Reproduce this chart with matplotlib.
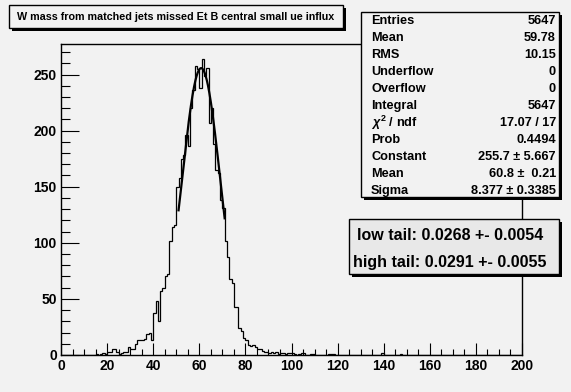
import numpy as np
import matplotlib
matplotlib.use("Agg")
import matplotlib.pyplot as plt
from matplotlib.patches import Rectangle

# ---------------- data ----------------
bin_edges_range = (0, 200)
n_bins = 200
# non-empty bins: lower edge -> count
filled_bins = [15, 17, 18, 19, 20, 21, 22, 23, 24, 25, 26, 27, 28, 29,
               30, 31, 32, 33, 34, 35, 36, 37, 38, 39,
               40, 41, 42, 43, 44, 45, 46, 47, 48, 49,
               50, 51, 52, 53, 54, 55, 56, 57, 58, 59,
               60, 61, 62, 63, 64, 65, 66, 67, 68, 69,
               70, 71, 72, 73, 74, 75, 76, 77, 78, 79,
               80, 81, 82, 83, 84, 85, 86, 87, 88, 89,
               90, 91, 92, 93, 94, 95, 96, 97, 98, 99,
               100, 101, 103, 104, 105, 108, 109, 116, 117, 118, 139, 147]
filled_counts = [1, 1, 2, 1, 3, 3, 5, 5, 3, 1, 2, 3, 3, 7,
                 5, 5, 10, 13, 13, 13, 14, 19, 20, 13,
                 37, 48, 30, 57, 60, 70, 72, 102, 114, 116,
                 150, 158, 175, 178, 196, 186, 220, 236, 258, 255,
                 238, 264, 249, 256, 207, 220, 188, 165, 162, 138,
                 131, 102, 87, 68, 64, 43, 43, 24, 21, 15,
                 13, 9, 8, 9, 7, 5, 5, 4, 3, 3,
                 2, 3, 2, 3, 1, 2, 2, 1, 2, 2,
                 2, 1, 1, 2, 2, 1, 1, 1, 1, 1, 2, 1]

# gaussian fit parameters (from stats box)
fit_constant = 255.7
fit_mean = 60.8
fit_sigma = 8.377
fit_range = (51, 71)

title = "W mass from matched jets missed Et B central small ue influx"
stat_labels = ["Entries", "Mean", "RMS", "Underflow", "Overflow", "Integral",
               r"$\chi^{2}$ / ndf", "Prob", "Constant", "Mean", "Sigma"]
stat_values = ["5647", "59.78", "10.15", "0", "0", "5647", "17.07 / 17",
               "0.4494", "255.7 \u00b1 5.667", "60.8 \u00b1  0.21", "8.377 \u00b1 0.3385"]
tail_lines = ["low tail: 0.0268 +- 0.0054", "high tail: 0.0291 +- 0.0055"]

x_ticks = [0, 20, 40, 60, 80, 100, 120, 140, 160, 180, 200]
y_ticks = [0, 50, 100, 150, 200, 250]

# ---------------- figure ----------------
W, H = 571, 392
BG = "#f2f2f2"
plt.rcParams["font.family"] = ["Liberation Sans", "DejaVu Sans"]
plt.rcParams["font.weight"] = "bold"
plt.rcParams["mathtext.fontset"] = "custom"
plt.rcParams["mathtext.rm"] = "Liberation Sans:bold"
plt.rcParams["mathtext.it"] = "Liberation Sans:italic:bold"
plt.rcParams["mathtext.bf"] = "Liberation Sans:bold"

fig = plt.figure(figsize=(W / 100, H / 100), dpi=100, facecolor=BG)

def fx(px):
    return px / W

def fy(py):
    return 1 - py / H

ax_l, ax_r, ax_t, ax_b = 61, 522, 44, 355
ax = fig.add_axes([fx(ax_l), fy(ax_b), (ax_r - ax_l) / W, (ax_b - ax_t) / H])
ax.set_facecolor(BG)

edges = np.linspace(bin_edges_range[0], bin_edges_range[1], n_bins + 1)
counts = np.zeros(n_bins)
for b, c in zip(filled_bins, filled_counts):
    counts[b] = c

ax.stairs(counts, edges, color="black", linewidth=0.9, baseline=0)

xf = np.linspace(fit_range[0], fit_range[1], 200)
yf = fit_constant * np.exp(-0.5 * ((xf - fit_mean) / fit_sigma) ** 2)
ax.plot(xf, yf, color="black", linewidth=1.6)

ax.set_xlim(0, 200)
ax.set_ylim(0, 1.05 * counts.max())
ax.set_xticks(x_ticks)
ax.set_yticks(y_ticks)
ax.set_xticks(np.arange(0, 201, 5), minor=True)
ax.set_yticks(np.arange(0, 271, 10), minor=True)
ax.tick_params(axis="both", which="both", direction="in", top=False, right=False,
               labelsize=10, width=0.8)
ax.tick_params(axis="y", which="major", length=13, pad=3)
ax.tick_params(axis="y", which="minor", length=6.5)
ax.tick_params(axis="x", which="major", length=9, pad=3)
ax.tick_params(axis="x", which="minor", length=4.5)
for lab in ax.get_xticklabels() + ax.get_yticklabels():
    lab.set_fontweight("bold")
for s in ax.spines.values():
    s.set_linewidth(1.0)

# ---------------- boxes ----------------
def pave(x0, y0, x1, y1, fill, shadow=2.5):
    sh = Rectangle((fx(x0 + shadow), fy(y1 + shadow)), (x1 - x0) / W, (y1 - y0) / H,
                   transform=fig.transFigure, facecolor="black", edgecolor="none", zorder=10)
    bx = Rectangle((fx(x0), fy(y1)), (x1 - x0) / W, (y1 - y0) / H,
                   transform=fig.transFigure, facecolor=fill, edgecolor="black",
                   linewidth=1.0, zorder=11)
    fig.patches.extend([sh, bx])

# title
pave(9, 5, 343, 28, BG)
fig.text(fx(17), fy(17), title, fontsize=7.75, fontweight="bold", ha="left", va="center", zorder=12)

# stats
pave(361, 12, 559, 197, BG)
for i, (lab, val) in enumerate(zip(stat_labels, stat_values)):
    yy = 21 + i * 17.0
    fig.text(fx(371), fy(yy), lab, fontsize=9.2, fontweight="bold", ha="left", va="center", zorder=12)
    fig.text(fx(556), fy(yy), val, fontsize=9.2, fontweight="bold", ha="right", va="center", zorder=12)

# tails
pave(349, 219, 559, 274, "#e8e8e8")
fig.text(fx(357), fy(235), tail_lines[0], fontsize=11.5, fontweight="bold", ha="left", va="center", zorder=12)
fig.text(fx(353), fy(263), tail_lines[1], fontsize=11.5, fontweight="bold", ha="left", va="center", zorder=12)

fig.savefig("out.png", dpi=100, facecolor=BG)
